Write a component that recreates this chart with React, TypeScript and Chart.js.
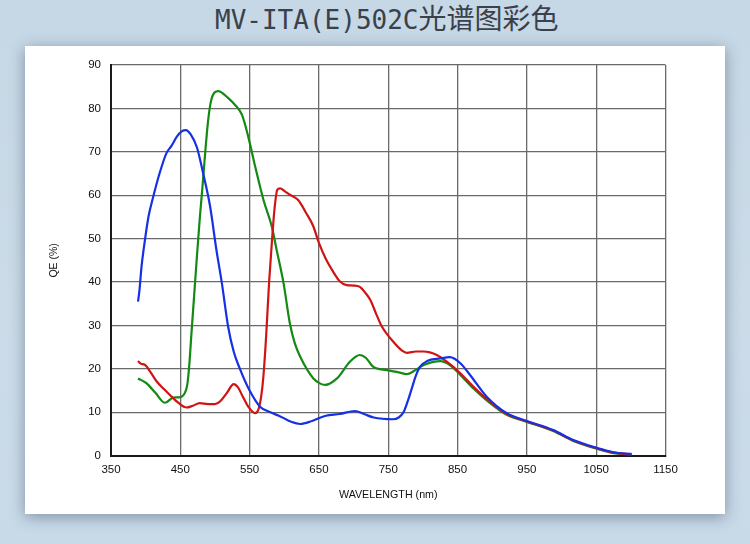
import { useEffect, useRef } from 'react';
import { Chart, registerables } from 'chart.js';

Chart.register(...registerables);

// Wavelength ticks and QE ticks
const X_TICKS = [350, 450, 550, 650, 750, 850, 950, 1050, 1150];
const Y_TICKS = [0, 10, 20, 30, 40, 50, 60, 70, 80, 90];

// Blue channel
const BLUE_NM = [389, 391, 394, 397, 404, 411, 420, 430, 437, 445, 452, 458, 465, 474, 483, 493, 502, 510, 519, 527, 536, 550, 565, 580, 595, 610, 623, 640, 660, 680, 702, 715, 729, 757, 765, 772, 778, 784, 790, 796, 806, 825, 839, 854, 868, 892, 921, 950, 988, 1017, 1051, 1075, 1101];
const BLUE_QE = [35.5, 38, 43.5, 47.4, 55, 59.7, 65, 69.7, 71.3, 73.5, 74.7, 75, 74, 71, 65, 57.4, 47.5, 39.7, 29.7, 24, 20, 15, 11.3, 10, 9, 7.8, 7.3, 8, 9.2, 9.6, 10.3, 9.6, 8.8, 8.4, 8.8, 10, 12.5, 15.5, 18.5, 20.5, 21.8, 22.4, 22.7, 21.3, 18.6, 13.6, 9.8, 8.0, 5.9, 3.6, 1.8, 0.8, 0.4];

// Green channel
const GREEN_NM = [389, 401, 414, 428, 440, 450, 456, 460, 463, 466, 470, 474, 478, 482, 486, 490, 494, 499, 505, 511, 517, 529, 539, 548, 558, 570, 582, 589, 599, 608, 615, 623, 642, 652, 659, 676, 695, 709, 718, 728, 748, 765, 777, 790, 801, 815, 825, 839, 854, 873, 897, 921, 950, 988, 1017, 1051, 1075, 1101];
const GREEN_QE = [17.8, 16.7, 14.5, 12.2, 13.4, 13.5, 14.3, 16.3, 21, 28, 37, 46, 54.5, 62, 70, 77, 81.5, 83.6, 84, 83.5, 82.7, 80.8, 78.5, 73.5, 66.6, 58.9, 52.8, 47.4, 39.7, 30.5, 26, 22.8, 17.8, 16.6, 16.3, 17.8, 21.7, 23.2, 22.5, 20.5, 19.7, 19.2, 18.8, 19.8, 20.9, 21.6, 21.8, 20.9, 18.6, 15.5, 12.1, 9.4, 7.8, 5.7, 3.4, 1.6, 0.6, 0.3];

// Red channel
const RED_NM = [389, 393, 399, 408, 416, 426, 435, 447, 459, 468, 478, 490, 500, 508, 517, 527, 533, 539, 548, 558, 563, 567, 570, 574, 578, 582, 586, 590, 594, 600, 608, 615, 620, 632, 642, 650, 660, 670, 680, 690, 700, 709, 717, 724, 733, 741, 757, 770, 777, 790, 801, 810, 820, 834, 854, 873, 897, 921, 950, 988, 1017, 1051, 1075, 1101];
const RED_QE = [21.8, 21.2, 20.9, 19, 17.1, 15.4, 14.0, 12.2, 11.1, 11.5, 12.1, 11.9, 11.9, 12.6, 14.4, 16.5, 15.8, 14.0, 11.3, 9.8, 10.8, 14, 18.5, 28, 39.7, 49, 57, 61.3, 61.6, 61, 60.1, 59.5, 58.9, 55.8, 52.8, 49, 45.3, 42.5, 40.2, 39.3, 39.2, 38.9, 37.5, 35.9, 32.5, 29.7, 26.3, 24.2, 23.7, 24, 24.0, 23.8, 23.2, 21.7, 19.0, 15.9, 12.4, 9.6, 7.9, 5.8, 3.5, 1.7, 0.7, 0.3];

const toPoints = (xs: number[], ys: number[]) => xs.map((x, i) => ({ x, y: ys[i] }));

const TICK_FONT = { family: '"Liberation Sans", Arial, sans-serif', size: 11.5 };

export default function App() {
  const canvasRef = useRef<HTMLCanvasElement>(null);
  const chartRef = useRef<Chart | null>(null);

  useEffect(() => {
    document.body.style.margin = '0';
    if (!canvasRef.current) return;
    if (chartRef.current) chartRef.current.destroy();

    const line = (data: { x: number; y: number }[], color: string) => ({
      data,
      borderColor: color,
      backgroundColor: color,
      borderWidth: 2.2,
      pointRadius: 0,
      cubicInterpolationMode: 'monotone' as const,
      fill: false,
    });

    chartRef.current = new Chart(canvasRef.current, {
      type: 'line',
      data: {
        datasets: [
          line(toPoints(BLUE_NM, BLUE_QE), '#1630e6'),
          line(toPoints(RED_NM, RED_QE), '#d01414'),
          line(toPoints(GREEN_NM, GREEN_QE), '#138a13'),
        ],
      },
      options: {
        animation: false,
        responsive: false,
        maintainAspectRatio: false,
        layout: { padding: { top: 19, right: 59.5, bottom: 0, left: 0 } },
        plugins: { legend: { display: false }, tooltip: { enabled: false } },
        scales: {
          x: {
            type: 'linear',
            min: 350,
            max: 1150,
            afterBuildTicks: (scale) => {
              scale.ticks = X_TICKS.map((v) => ({ value: v }));
            },
            afterFit: (scale) => {
              scale.height = 58.3;
            },
            ticks: {
              color: '#111',
              font: TICK_FONT,
              padding: 7,
              maxRotation: 0,
              autoSkip: false,
              callback: (value) => String(value),
            },
            grid: { color: '#6a6a6a', lineWidth: 1.3, drawTicks: false },
            border: { color: '#1a1a1a', width: 2 },
            title: {
              display: true,
              text: 'WAVELENGTH (nm)',
              color: '#111',
              font: { family: '"Liberation Sans", Arial, sans-serif', size: 10.7 },
              padding: { top: 0, bottom: 12.6 },
            },
          },
          y: {
            type: 'linear',
            min: 0,
            max: 90,
            afterBuildTicks: (scale) => {
              scale.ticks = Y_TICKS.map((v) => ({ value: v }));
            },
            afterFit: (scale) => {
              scale.width = 86;
            },
            ticks: { color: '#111', font: TICK_FONT, padding: 10, callback: (value) => String(value) },
            grid: { color: '#6a6a6a', lineWidth: 1.3, drawTicks: false },
            border: { color: '#1a1a1a', width: 2 },
            title: {
              display: true,
              text: 'QE (%)',
              color: '#111',
              font: { family: '"Liberation Sans", Arial, sans-serif', size: 10.5 },
              padding: { top: 23.2, bottom: 0 },
            },
          },
        },
      },
    });

    return () => {
      if (chartRef.current) {
        chartRef.current.destroy();
        chartRef.current = null;
      }
    };
  }, []);

  return (
    <div
      style={{
        position: 'relative',
        width: 750,
        height: 544,
        overflow: 'hidden',
        background: 'linear-gradient(180deg, #c6d7e5 0%, #cbdbe8 60%, #c8d9e8 100%)',
      }}
    >
      {/* Title */}
      <div
        style={{
          position: 'absolute',
          left: 215,
          top: 4,
          whiteSpace: 'nowrap',
          lineHeight: '27px',
          color: '#3a414b',
        }}
      >
        <span style={{ fontFamily: '"DejaVu Sans Mono", monospace', fontSize: 26 }}>MV-ITA(E)502C</span>
        <span style={{ fontFamily: '"Noto Sans CJK SC", sans-serif', fontSize: 28 }}>光谱图彩色</span>
      </div>

      {/* Card */}
      <div
        style={{
          position: 'absolute',
          left: 25,
          top: 46,
          width: 700,
          height: 468,
          background: '#ffffff',
          boxShadow: '0 3px 14px rgba(40, 60, 85, 0.45)',
        }}
      >
        <canvas ref={canvasRef} width={700} height={468} style={{ display: 'block', width: 700, height: 468 }}></canvas>
      </div>
    </div>
  );
}
